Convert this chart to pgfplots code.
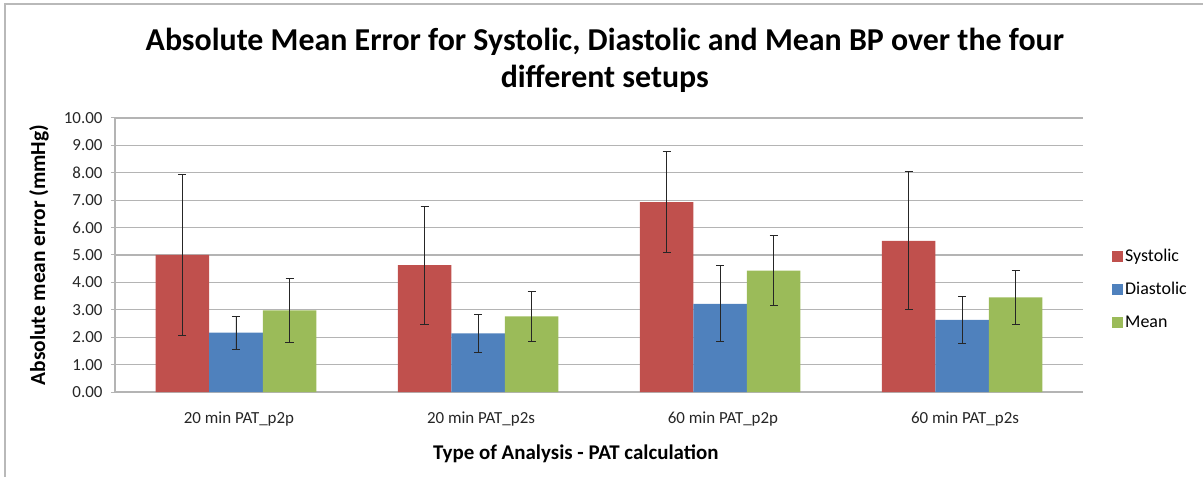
\documentclass[border=0pt]{standalone}
\usepackage{pgfplots}
\usepackage{pgfplotstable}
\pgfplotsset{compat=1.18}
\usepackage{fontspec}
\setmainfont{Carlito}

\definecolor{sysred}{HTML}{C0504D}
\definecolor{diablue}{HTML}{4F81BD}
\definecolor{meangreen}{HTML}{9BBB59}
\definecolor{gridgray}{HTML}{B4B4B4}

% x  value  error (SD)
\pgfplotstableread{
x sys  syserr dia  diaerr mean meanerr
0 5.00 2.93   2.17 0.60   2.98 1.16
1 4.63 2.15   2.14 0.69   2.76 0.92
2 6.93 1.84   3.22 1.39   4.43 1.28
3 5.52 2.52   2.63 0.86   3.45 1.00
}\bpdata

\begin{document}
\begin{tikzpicture}
\useasboundingbox (-115bp,-85bp) rectangle (1088bp,392bp);
\draw[gray!55, line width=1.5bp] (-110bp,-90bp) -- (-110bp,388bp) -- (1095bp,388bp);
\begin{axis}[
  at={(0,0)}, anchor=south west,
  scale only axis, width=968bp, height=274bp,
  ybar=0pt, bar width=53.5bp,
  xmin=-0.5, xmax=3.5, ymin=0, ymax=10,
  xtick=data,
  xticklabels={20 min PAT\_p2p, 20 min PAT\_p2s, 60 min PAT\_p2p, 60 min PAT\_p2s},
  ytick={0,1,...,10},
  yticklabel style={xshift=-5bp, /pgf/number format/.cd, fixed, fixed zerofill, precision=2, assume math mode=true},
  ymajorgrids, grid style={gridgray, line width=1.3bp},
  axis x line*=bottom, axis y line*=left,
  axis line style={gridgray, line width=1.3bp},
  y axis line style={-}, x axis line style={-},
  major tick length=4bp,
  tick style={gridgray, line width=1bp},
  xtick style={draw=none},
  ytick pos=left, tick align=outside,
  ticklabel style={font=\fontsize{17}{19}\selectfont, text=black!85},
  xticklabel style={yshift=-12bp, xshift=3bp},
  ylabel={\bfseries Absolute mean error (mmHg)},
  ylabel style={font=\fontsize{21.5}{23}\selectfont, at={(axis description cs:-0.0785,0.5)}, anchor=center},
  xlabel={\bfseries Type of Analysis - PAT calculation},
  xlabel style={font=\fontsize{21}{23}\selectfont, at={(axis description cs:0.476,0)}, anchor=center, yshift=-62bp},
  legend style={draw=none, fill=none, at={(1.0,0.376)}, anchor=west, xshift=26bp,
    font=\fontsize{18}{20}\selectfont, row sep=15.5bp, cells={anchor=west}},
  legend image code/.code={\fill[#1] (0bp,-5.5bp) rectangle (11bp,5.5bp);},
  error bars/y dir=both, error bars/y explicit,
  error bars/error bar style={black!85, line width=0.9bp},
  error bars/error mark options={rotate=90, black!85, mark size=4bp, line width=0.9bp},
  clip=false,
]
\addplot[fill=sysred, draw=none] table[x=x, y=sys, y error=syserr] {\bpdata};
\addlegendentry{Systolic}
\addplot[fill=diablue, draw=none] table[x=x, y=dia, y error=diaerr] {\bpdata};
\addlegendentry{Diastolic}
\addplot[fill=meangreen, draw=none] table[x=x, y=mean, y error=meanerr] {\bpdata};
\addlegendentry{Mean}
\node[font=\bfseries\fontsize{32}{37}\selectfont, align=center] at (rel axis cs:0.506,1.21)
  {Absolute Mean Error for Systolic, Diastolic and Mean BP over the four\\different setups};
\end{axis}
\end{tikzpicture}
\end{document}
